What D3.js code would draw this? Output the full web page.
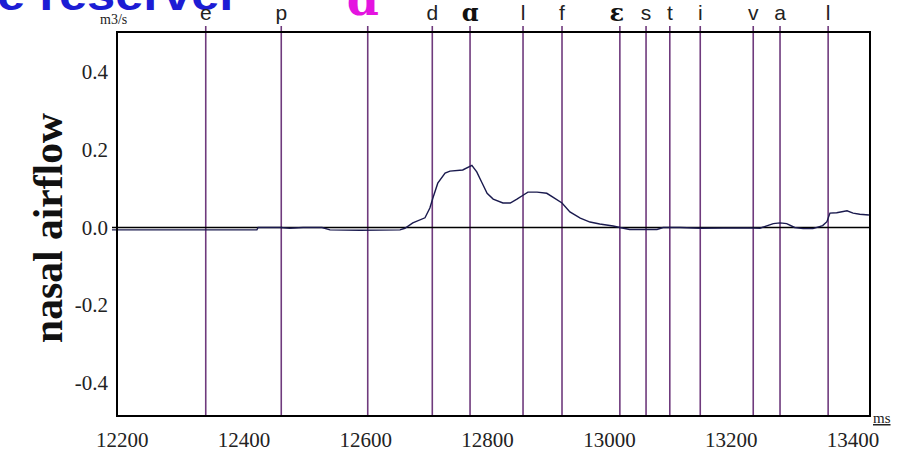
<!DOCTYPE html>
<html>
<head>
<meta charset="utf-8">
<script src="https://cdn.jsdelivr.net/npm/d3@7"></script>
<style>
  html, body { margin: 0; padding: 0; background: #fff; }
  svg { display: block; }
</style>
</head>
<body>
<svg id="chart" width="913" height="452"></svg>
<script>
// Time axis ticks (ms) and airflow ticks (m3/s)
const xTicks = [12200, 12400, 12600, 12800, 13000, 13200, 13400];
const yTicks = [0.4, 0.2, 0.0, -0.2, -0.4];

// Nasal airflow trace: sample times (ms) and flow (m3/s)
const times = [12184, 12263, 12329, 12422, 12424, 12460, 12476, 12498, 12529, 12542,
  12591, 12657, 12665, 12678, 12698, 12706, 12711, 12719, 12731, 12739,
  12760, 12775, 12783, 12792, 12800, 12810, 12826, 12838, 12849, 12859,
  12867, 12882, 12898, 12908, 12923, 12936, 12953, 12969, 12985, 13007,
  13018, 13034, 13079, 13089, 13117, 13150, 13227, 13248, 13270, 13281,
  13292, 13305, 13319, 13335, 13351, 13358, 13363, 13374, 13391, 13401,
  13412, 13427];
const flow = [-0.006, -0.006, -0.006, -0.006, 0.0, 0.0, -0.002, 0.0, 0.0, -0.006,
  -0.007, -0.006, -0.002, 0.012, 0.025, 0.05, 0.076, 0.114, 0.14, 0.145,
  0.148, 0.16, 0.143, 0.114, 0.088, 0.073, 0.063, 0.063, 0.073, 0.083,
  0.091, 0.091, 0.088, 0.078, 0.063, 0.04, 0.024, 0.014, 0.009, 0.004,
  0.0, -0.005, -0.005, 0.0, 0.0, -0.002, -0.001, -0.002, 0.01, 0.012,
  0.01, 0.0, -0.003, -0.003, 0.005, 0.015, 0.037, 0.038, 0.043, 0.037,
  0.034, 0.032];

// Segment boundaries (ms) and the phone label written above each one
const boundaries = [12338, 12462, 12604, 12710, 12772, 12859, 12923, 13018, 13061, 13100, 13150, 13237, 13281, 13360];
const phones = ["e", "p", "ɑ", "d", "ɑ", "l", "f", "ɛ", "s", "t", "i", "v", "a", "l"];

const svg = d3.select("#chart");
const frame = { left: 117, right: 870, top: 32, bottom: 416 };

const x = d3.scaleLinear().domain([12200, 13400]).range([121.7, 852.5]);
const y = d3.scaleLinear().domain([-0.4, 0.4]).range([383, 72]);

// Caption text running off the top edge
svg.append("text")
  .attr("x", -3).attr("y", 10)
  .attr("font-family", "Liberation Sans, Arial, sans-serif")
  .attr("font-weight", "bold").attr("font-size", 44)
  .attr("fill", "#1c1cd4")
  .attr("textLength", 242).attr("lengthAdjust", "spacingAndGlyphs")
  .text("e reserver");

// Segment boundary lines
svg.append("g").selectAll("line").data(boundaries).join("line")
  .attr("x1", d => x(d)).attr("x2", d => x(d))
  .attr("y1", 26).attr("y2", frame.bottom)
  .attr("stroke", "#6f3a7d").attr("stroke-width", 1.6);

// Phone labels
const phoneStyle = i => {
  if (i === 2) return { family: "DejaVu Serif, serif", weight: "bold", size: 46, fill: "#e414e0", base: 15, dx: -5 };
  if (i === 4 || i === 7) return { family: "DejaVu Serif, serif", weight: "bold", size: 24, fill: "#111", base: 21, dx: i === 7 ? -3 : 0 };
  return { family: "Liberation Sans, Arial, sans-serif", weight: "normal", size: 21, fill: "#222", base: 20, dx: 0 };
};
svg.append("g").selectAll("text").data(phones).join("text")
  .each(function (d, i) {
    const s = phoneStyle(i);
    d3.select(this)
      .attr("x", x(boundaries[i]) + s.dx).attr("y", s.base)
      .attr("text-anchor", "middle")
      .attr("font-family", s.family).attr("font-weight", s.weight)
      .attr("font-size", s.size).attr("fill", s.fill)
      .text(d);
  });

// Zero reference line
svg.append("line")
  .attr("x1", 112).attr("x2", frame.right)
  .attr("y1", y(0)).attr("y2", y(0))
  .attr("stroke", "#000").attr("stroke-width", 1.6);

// Airflow trace
svg.append("path")
  .datum(times.map((t, i) => [t, flow[i]]))
  .attr("fill", "none")
  .attr("stroke", "#1a1a4e").attr("stroke-width", 1.4)
  .attr("d", d3.line().x(d => x(d[0])).y(d => y(d[1])));

// Plot frame
svg.append("rect")
  .attr("x", frame.left).attr("y", frame.top)
  .attr("width", frame.right - frame.left).attr("height", frame.bottom - frame.top)
  .attr("fill", "none").attr("stroke", "#000").attr("stroke-width", 2);

// Axis tick labels (no tick marks); plain hyphen for negatives
const yAxis = d3.axisLeft(y).tickValues(yTicks).tickSize(0).tickPadding(0)
  .tickFormat(d => d.toFixed(1));
svg.append("g").attr("transform", "translate(108,0)").call(yAxis)
  .call(g => g.select(".domain").remove())
  .selectAll("text")
  .attr("font-family", "Liberation Serif, Times New Roman, serif")
  .attr("font-size", 21).attr("fill", "#222");

const xAxis = d3.axisBottom(x).tickValues(xTicks).tickSize(0).tickPadding(0)
  .tickFormat(d => String(d));
svg.append("g").attr("transform", "translate(0,432)").call(xAxis)
  .call(g => g.select(".domain").remove())
  .selectAll("text")
  .attr("font-family", "Liberation Serif, Times New Roman, serif")
  .attr("font-size", 21).attr("fill", "#222");

// Units
svg.append("text")
  .attr("x", 100).attr("y", 24)
  .attr("font-family", "Liberation Serif, Times New Roman, serif")
  .attr("font-size", 14).attr("fill", "#222")
  .text("m3/s");
svg.append("text")
  .attr("x", 873).attr("y", 423)
  .attr("font-family", "Liberation Serif, Times New Roman, serif")
  .attr("font-size", 15).attr("fill", "#222")
  .attr("text-decoration", "underline")
  .text("ms");

// Vertical axis title
svg.append("text")
  .attr("transform", "translate(62,228) rotate(-90)")
  .attr("text-anchor", "middle")
  .attr("font-family", "Liberation Serif, Times New Roman, serif")
  .attr("font-weight", "bold").attr("font-size", 42).attr("fill", "#111")
  .attr("textLength", 230).attr("lengthAdjust", "spacingAndGlyphs")
  .text("nasal airflow");
</script>
</body>
</html>
